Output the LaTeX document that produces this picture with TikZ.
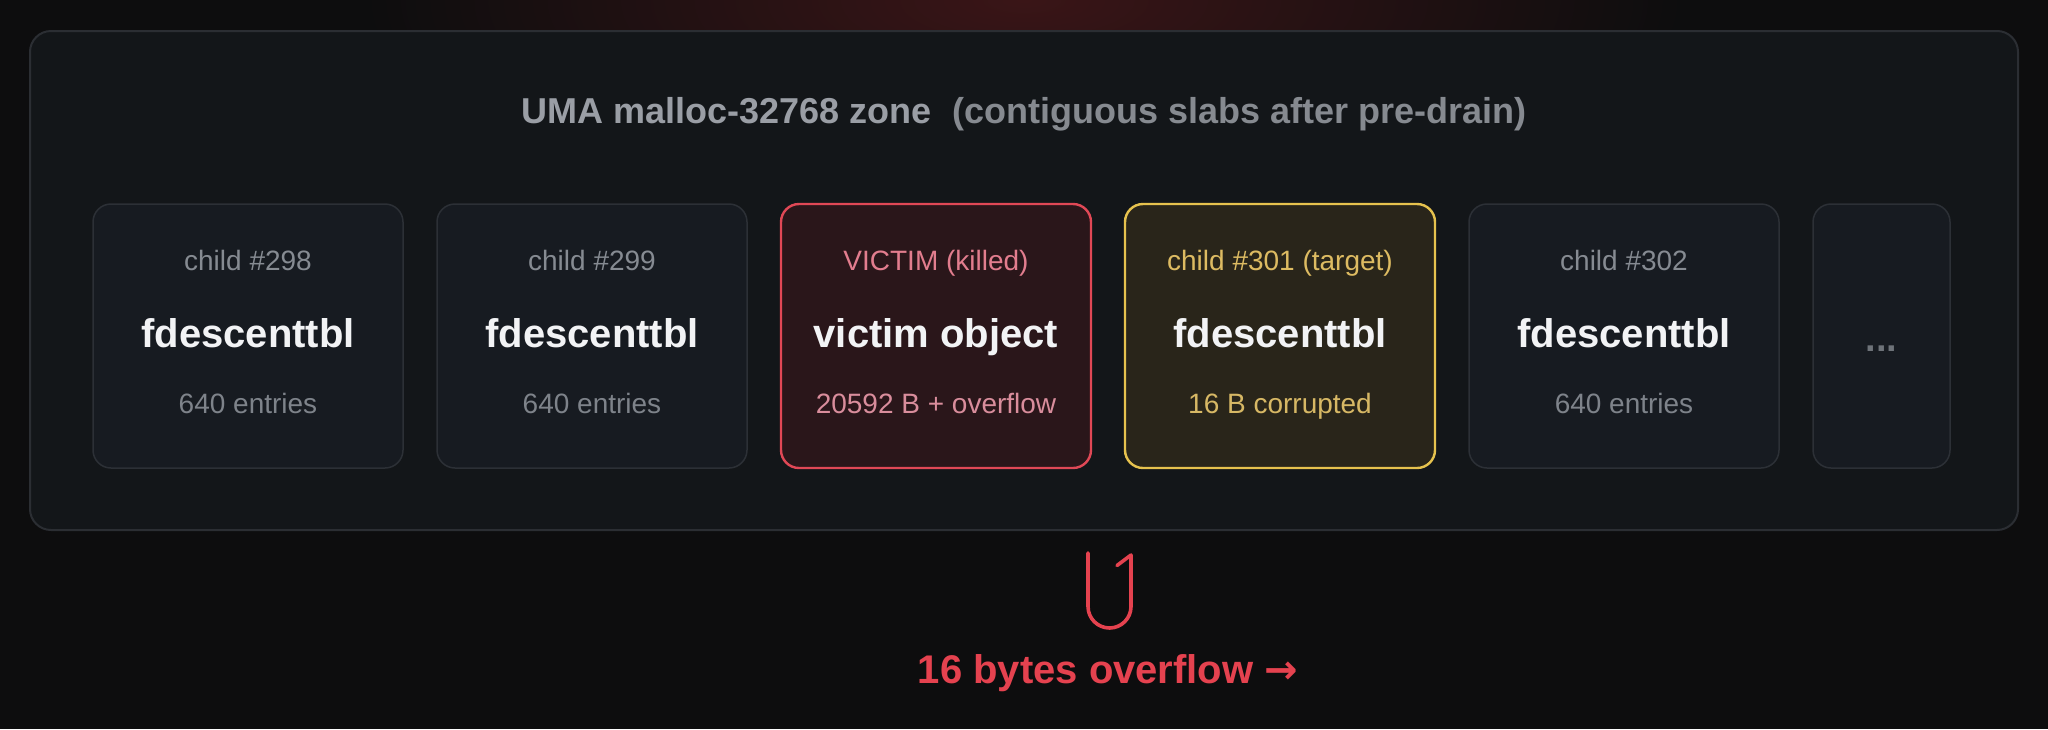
\documentclass[tikz,border=0pt]{standalone}
\usepackage{fontspec}
\setmainfont{Liberation Sans}
\newfontfamily\arrowfont{DejaVu Sans}
\usetikzlibrary{positioning}

\definecolor{bg}{HTML}{0D0D0E}
\definecolor{glow}{HTML}{3A1517}
\definecolor{zonefill}{HTML}{131619}
\definecolor{zoneline}{HTML}{2B2E33}
\definecolor{slabfill}{HTML}{171B21}
\definecolor{slabline}{HTML}{2C3036}
\definecolor{titlegray}{HTML}{9A9EA5}
\definecolor{notegray}{HTML}{868A90}
\definecolor{taggray}{HTML}{868B92}
\definecolor{subgray}{HTML}{7E838A}
\definecolor{mainwhite}{HTML}{F2F3F5}
\definecolor{vicred}{HTML}{E04856}
\definecolor{vicfill}{HTML}{2A161A}
\definecolor{victag}{HTML}{E27D8E}
\definecolor{vicsub}{HTML}{D98D9C}
\definecolor{tgtyellow}{HTML}{E6C24E}
\definecolor{tgtfill}{HTML}{29251A}
\definecolor{tgttag}{HTML}{DDBB62}
\definecolor{tgtsub}{HTML}{D7B865}
\definecolor{dotgray}{HTML}{6E7379}
\definecolor{ovfred}{HTML}{E5424F}

\tikzset{
  zone/.style={draw=zoneline, line width=1pt, fill=zonefill, rounded corners=10.5pt,
    minimum width=994pt, minimum height=249.5pt, inner sep=0pt, outer sep=0pt},
  slab/.style={draw=slabline, line width=0.75pt, fill=slabfill, rounded corners=9pt,
    minimum width=155pt, minimum height=132pt, inner sep=0pt, outer sep=0pt},
  victimslab/.style={slab, draw=vicred, fill=vicfill, line width=1.2pt},
  targetslab/.style={slab, draw=tgtyellow, fill=tgtfill, line width=1.2pt},
  tag/.style={anchor=base, inner sep=0pt, text=taggray, font=\fontsize{14}{17}\selectfont},
  objname/.style={anchor=base, inner sep=0pt, text=mainwhite, font=\fontsize{20}{24}\selectfont\bfseries},
  subline/.style={anchor=base, inner sep=0pt, text=subgray, font=\fontsize{14}{17}\selectfont},
  ovfmark/.style={draw=ovfred, line width=1.8pt, line cap=round, line join=round},
}

\begin{document}
\begin{tikzpicture}[x=0.5pt, y=-0.5pt]
    \path[use as bounding box, fill=bg] (0,0) rectangle (2048,729);
    % red glow behind the top edge
    \begin{scope}
        \clip (0,0) rectangle (2048,729);
        \shade[inner color=glow, outer color=bg] (1024,0) ellipse [x radius=330pt, y radius=110pt];
    \end{scope}

    \node [zone] (zone) at (1024,280.5) {};
    \node [anchor=base, inner sep=0pt, font=\fontsize{18}{22}\selectfont\bfseries] (title) at (1024,123)
        {\textcolor{titlegray}{UMA malloc-32768 zone}\hspace{10pt}\textcolor{notegray}{(contiguous slabs after pre-drain)}};

    \node [slab] (c_298) at (248,336) {};
    \node [slab, right=17pt of c_298] (c_299) {};
    \node [victimslab, right=17pt of c_299] (victim) {};
    \node [targetslab, right=17pt of victim] (c_301) {};
    \node [slab, right=17pt of c_301] (c_302) {};
    \node [slab, minimum width=68.5pt, right=17pt of c_302] (more) {};

    \node [tag] (t_298) at ([yshift=-33pt]c_298.north) {child \#298};
    \node [objname] (n_298) at ([yshift=-71.5pt]c_298.north) {fdescenttbl};
    \node [subline] (s_298) at ([yshift=-104.5pt]c_298.north) {640 entries};

    \node [tag] (t_299) at ([yshift=-33pt]c_299.north) {child \#299};
    \node [objname] (n_299) at ([yshift=-71.5pt]c_299.north) {fdescenttbl};
    \node [subline] (s_299) at ([yshift=-104.5pt]c_299.north) {640 entries};

    \node [tag, text=victag] (t_vic) at ([yshift=-33pt]victim.north) {VICTIM (killed)};
    \node [objname] (n_vic) at ([yshift=-71.5pt]victim.north) {victim object};
    \node [subline, text=vicsub] (s_vic) at ([yshift=-104.5pt]victim.north) {20592 B + overflow};

    \node [tag, text=tgttag] (t_301) at ([yshift=-33pt]c_301.north) {child \#301 (target)};
    \node [objname] (n_301) at ([yshift=-71.5pt]c_301.north) {fdescenttbl};
    \node [subline, text=tgtsub] (s_301) at ([yshift=-104.5pt]c_301.north) {16 B corrupted};

    \node [tag] (t_302) at ([yshift=-33pt]c_302.north) {child \#302};
    \node [objname] (n_302) at ([yshift=-71.5pt]c_302.north) {fdescenttbl};
    \node [subline] (s_302) at ([yshift=-104.5pt]c_302.north) {640 entries};

    \node [objname, text=dotgray, font=\fontsize{19}{22}\selectfont\bfseries] (dots) at ([yshift=-7.5pt]more.center) {...};

    % overflow mark under the target
    \draw [ovfmark] (1088,553) -- (1088,606.5) arc[start angle=180, end angle=360, radius=10.75pt]
        -- (1131,555) -- (1117,565.5);
    \node [anchor=base, inner sep=0pt, text=ovfred, font=\fontsize{20}{24}\selectfont\bfseries] (ovf) at (1108,683)
        {16 bytes overflow {\arrowfont →}};
\end{tikzpicture}
\end{document}
